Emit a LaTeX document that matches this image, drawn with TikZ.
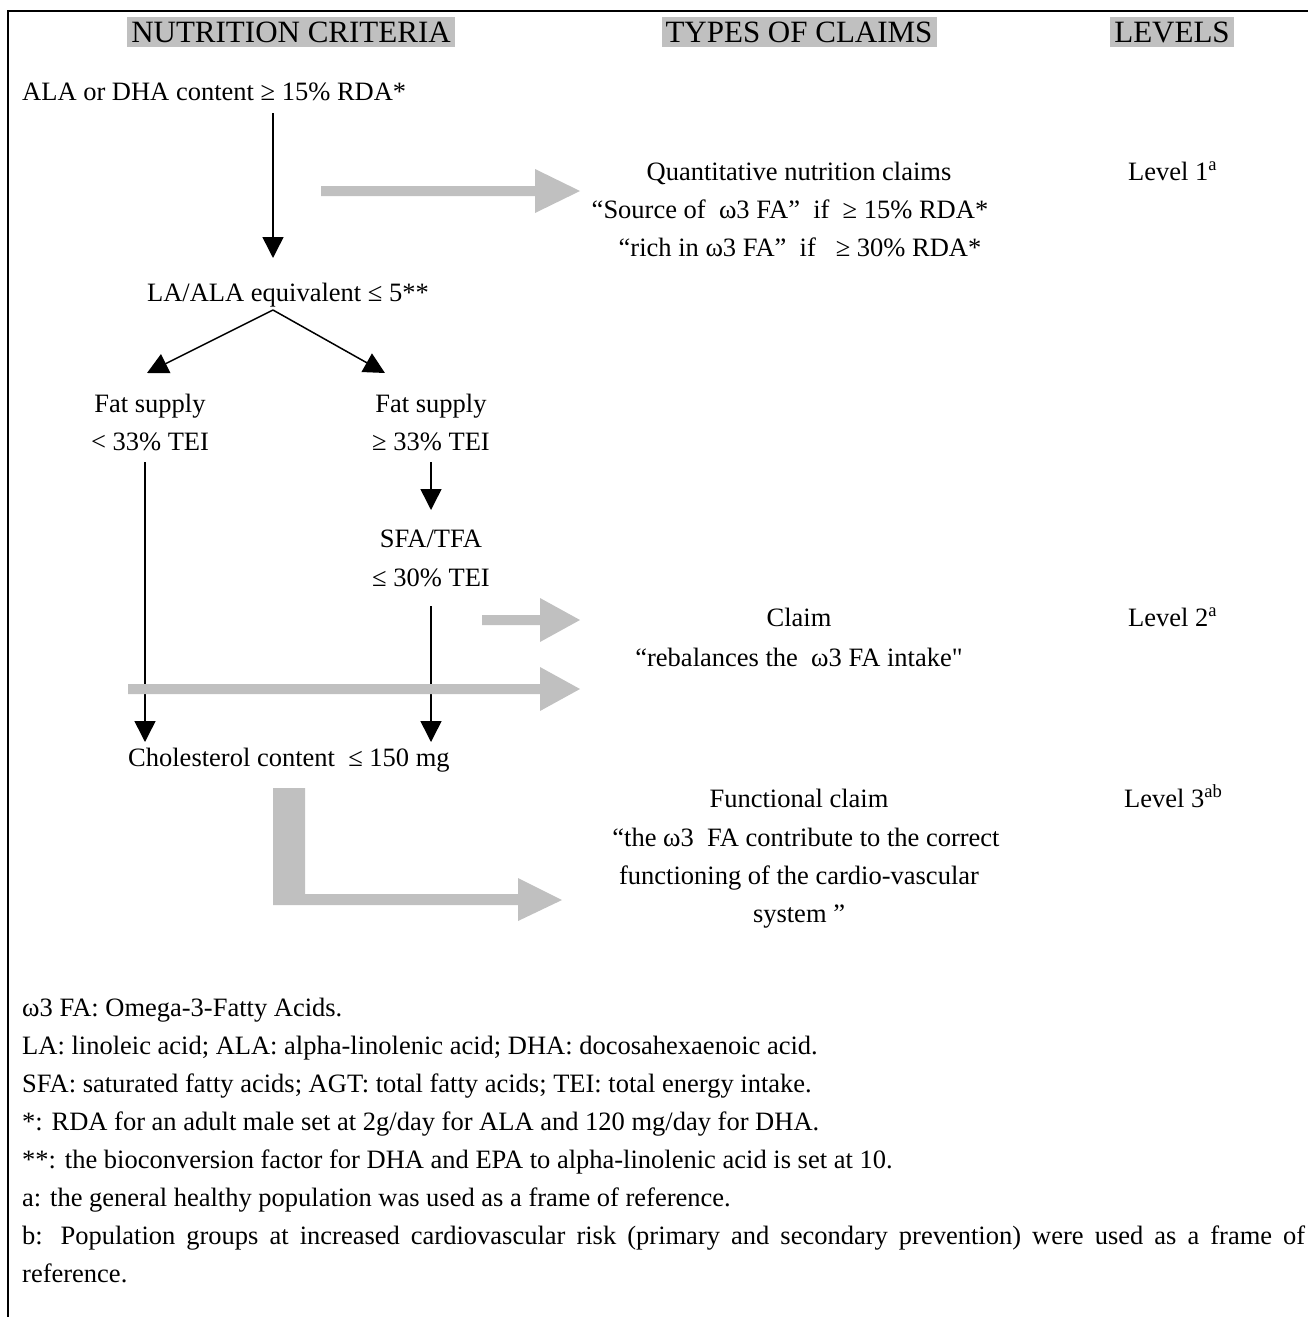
\documentclass[tikz,border=0pt]{standalone}
\usepackage{fontspec}
\newfontfamily\tnr{Liberation Serif}
\usetikzlibrary{arrows.meta}
\definecolor{hl}{RGB}{192,192,192}
\newcommand\grayarr[4]{% start x, head base x, tip x, center y
  \fill[hl] ({#1},{#4-5}) -- ({#2},{#4-5}) -- ({#2},{#4-22}) -- ({#3},{#4}) --
    ({#2},{#4+22}) -- ({#2},{#4+5}) -- ({#1},{#4+5}) -- cycle;}
\begin{document}
\begin{tikzpicture}[x=1pt,y=-1pt,
  every node/.style={inner sep=0pt, font=\tnr\fontsize{26.5}{38}\selectfont},
  txt/.style={anchor=base},
  txtl/.style={anchor=base west},
  hdr/.style={anchor=base, fill=hl, font=\tnr\fontsize{31}{36}\selectfont,
    inner xsep=4pt, inner ysep=0pt, text height=25pt, text depth=5pt},
  blk/.style={line width=1.5pt, -{Triangle[width=21pt,length=21pt]}},
]
\useasboundingbox (0,0) rectangle (1308,1317);
% frame
\draw[line width=2.5pt] (8,1317) -- (8,11) -- (1308,11);
% headers
\node[hdr] (h1) at (291,42) {NUTRITION CRITERIA};
\node[hdr] (h2) at (799,42) {TYPES OF CLAIMS};
\node[hdr] (h3) at (1172,42) {LEVELS};
% criteria
\node[txtl] (ala) at (22,100) {ALA or DHA content ≥ 15\% RDA*};
\node[txt] (la) at (288,301) {LA/ALA equivalent ≤ 5**};
\node[txt] (fs1) at (150,412) {Fat supply};
\node[txt] (fs1b) at (150,450) {< 33\% TEI};
\node[txt] (fs2) at (431,412) {Fat supply};
\node[txt] (fs2b) at (431,450) {≥ 33\% TEI};
\node[txt] (sfa) at (431,547) {SFA/TFA};
\node[txt] (sfab) at (431,586) {≤ 30\% TEI};
\node[txtl] (chol) at (128,766) {Cholesterol content\ \ ≤ 150 mg};
% claims
\node[txt] (q1) at (799,180) {Quantitative nutrition claims};
\node[txt] (q2) at (790,218) {“Source of\ \ ω3 FA”\ \ if\ \ ≥ 15\% RDA*};
\node[txt] (q3) at (800,256) {“rich in ω3 FA”\ \ if\ \ \ ≥ 30\% RDA*};
\node[txt] (c1) at (799,626) {Claim};
\node[txt] (c2) at (799,666) {“rebalances the\ \ ω3 FA intake"};
\node[txt] (f1) at (799,807) {Functional claim};
\node[txt] (f2) at (806,846) {“the ω3\ \ FA contribute to the correct};
\node[txt] (f3) at (799,884) {functioning of the cardio-vascular};
\node[txt] (f4) at (799,922) {system ”};
% levels
\node[txtl] (l1) at (1128,180) {Level 1\textsuperscript{a}};
\node[txtl] (l2) at (1128,626) {Level 2\textsuperscript{a}};
\node[txtl] (l3) at (1124,807) {Level 3\textsuperscript{ab}};
% footnotes
\node[txtl] (n1) at (22,1016) {ω3 FA: Omega-3-Fatty Acids.};
\node[txtl] (n2) at (22,1054) {LA: linoleic acid; ALA: alpha-linolenic acid; DHA: docosahexaenoic acid.};
\node[txtl] (n3) at (22,1092) {SFA: saturated fatty acids; AGT: total fatty acids; TEI: total energy intake.};
\node[txtl] (n4) at (22,1130) {*: RDA for an adult male set at 2g/day for ALA and 120 mg/day for DHA.};
\node[txtl] (n5) at (22,1168) {**: the bioconversion factor for DHA and EPA to alpha-linolenic acid is set at 10.};
\node[txtl] (n6) at (22,1206) {a: the general healthy population was used as a frame of reference.};
\node[txtl] (n7) at (22,1244) {\makebox[1283pt][s]{b: Population groups at increased cardiovascular risk (primary and secondary prevention) were used as a frame of}};
\node[txtl] (n8) at (22,1282) {reference.};
% connector points
\coordinate (a1s) at (273,113);
\coordinate (a1e) at (273,258);
\coordinate (sp) at (273,310);
\coordinate (t1) at (147,373);
\coordinate (t2) at (385,373);
\coordinate (a2s) at (431,462);
\coordinate (a2e) at (431,510);
\coordinate (a3s) at (145,462);
\coordinate (a3e) at (145,742);
\coordinate (a4s) at (431,606);
\coordinate (a4e) at (431,742);
\draw[blk] (a1s) -- (a1e);
\draw[blk] (sp) -- (t1);
\draw[blk] (sp) -- (t2);
\draw[blk] (a2s) -- (a2e);
\draw[blk] (a3s) -- (a3e);
\draw[blk] (a4s) -- (a4e);
% gray arrows
\grayarr{321}{535}{580}{191}
\grayarr{482}{540}{580}{620}
\grayarr{128}{540}{580}{689}
\fill[hl] (273,788) -- (305,788) -- (305,894) -- (518,894) -- (518,878) --
  (562,900) -- (518,921) -- (518,905) -- (273,905) -- cycle;
\end{tikzpicture}
\end{document}
